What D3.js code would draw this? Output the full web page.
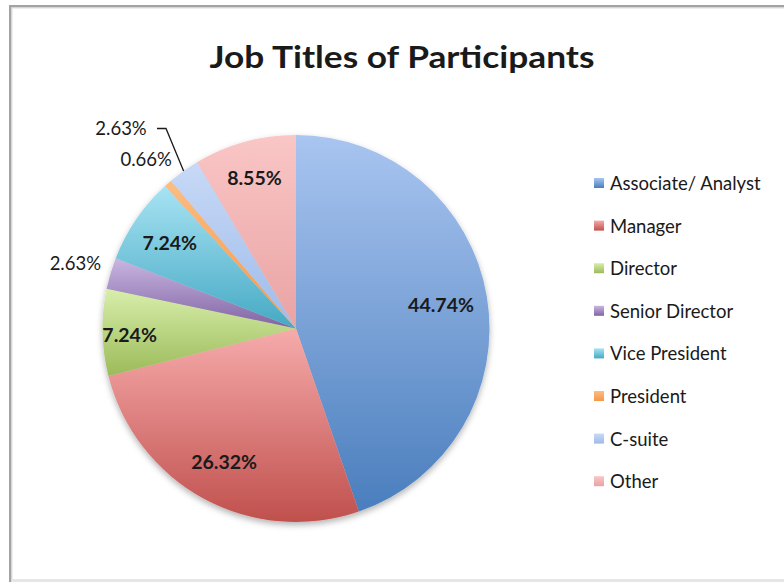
<!DOCTYPE html>
<html>
<head>
<meta charset="utf-8">
<script src="https://cdn.jsdelivr.net/npm/d3@7"></script>
<style>
  html, body { margin: 0; padding: 0; background: #ffffff; }
  svg { display: block; }
  text { font-family: Lato, "Open Sans", sans-serif; fill: #1a1a1a; }
</style>
</head>
<body>
<svg id="chart" width="784" height="582"></svg>
<script>
// Job titles and their share of participants (percent)
const categories = ["Associate/ Analyst", "Manager", "Director", "Senior Director",
                    "Vice President", "President", "C-suite", "Other"];
const shares = [44.74, 26.32, 7.24, 2.63, 7.24, 0.66, 2.63, 8.55];
const shareLabels = ["44.74%", "26.32%", "7.24%", "2.63%", "7.24%", "0.66%", "2.63%", "8.55%"];

// Gradient stops per slice: light at top, deeper at bottom
const topColors    = ["#a9c5f0", "#f6abab", "#d8eeab", "#c9b6e2", "#a8e3f3", "#fbbd85", "#c7d9f6", "#fac6c6"];
const bottomColors = ["#4a7ebd", "#c0504d", "#9bbb59", "#8064a2", "#45a9c4", "#f79646", "#9fbbea", "#e9a3a3"];

const W = 784, H = 582;
const cx = 296, cy = 328.5, R = 193.5;

const svg = d3.select("#chart");
const defs = svg.append("defs");

categories.forEach((c, i) => {
  const g = defs.append("linearGradient")
    .attr("id", "grad" + i)
    .attr("x1", 0).attr("y1", 0).attr("x2", 0).attr("y2", 1);
  g.append("stop").attr("offset", "0%").attr("stop-color", topColors[i]);
  g.append("stop").attr("offset", "100%").attr("stop-color", bottomColors[i]);
});

const shadow = defs.append("filter").attr("id", "pieShadow")
  .attr("x", "-10%").attr("y", "-10%").attr("width", "120%").attr("height", "125%");
shadow.append("feDropShadow")
  .attr("dx", 0).attr("dy", 3).attr("stdDeviation", 3)
  .attr("flood-color", "#000").attr("flood-opacity", 0.3);

// Chart frame
svg.append("rect").attr("x", 0).attr("y", 0).attr("width", W).attr("height", H).attr("fill", "#ffffff");
svg.append("rect").attr("x", 9).attr("y", 5).attr("width", W - 9).attr("height", 2.5).attr("fill", "#a3a3a3");
svg.append("rect").attr("x", 9).attr("y", 5).attr("width", 2.5).attr("height", H - 5).attr("fill", "#a3a3a3");
svg.append("rect").attr("x", 11.5).attr("y", 7.5).attr("width", W - 11.5).attr("height", 1).attr("fill", "#dedede");
svg.append("rect").attr("x", 11.5).attr("y", 7.5).attr("width", 1).attr("height", H - 7.5).attr("fill", "#dedede");
svg.append("rect").attr("x", 11.5).attr("y", 579).attr("width", W - 11.5).attr("height", 3).attr("fill", "#e6e6e6");

// Title
svg.append("text")
  .attr("x", 402).attr("y", 56)
  .attr("text-anchor", "middle").attr("dominant-baseline", "central")
  .attr("textLength", 385).attr("lengthAdjust", "spacingAndGlyphs")
  .style("font-size", "31px").style("font-weight", 700)
  .text("Job Titles of Participants");

// Pie
const data = categories.map((c, i) => ({ name: c, value: shares[i], label: shareLabels[i], i }));
const pie = d3.pie().value(d => d.value).sort(null);
const arcs = pie(data);
const arc = d3.arc().innerRadius(0).outerRadius(R);

const g = svg.append("g").attr("transform", `translate(${cx},${cy})`);
const slices = g.append("g").attr("filter", "url(#pieShadow)");
slices.selectAll("path")
  .data(arcs)
  .join("path")
  .attr("d", arc)
  .attr("fill", d => `url(#grad${d.data.i})`);

// Label placement: distance from center as a fraction of the radius
const labelRadius = [0.76, 0.78, 0.86, 1.19, 0.79, 1.17, 1.35, 0.81];
const insideLabel = [true, true, true, false, true, false, false, true];

function polar(angle, r) {
  return [Math.sin(angle) * r, -Math.cos(angle) * r];
}

arcs.forEach(a => {
  const i = a.data.i;
  const mid = (a.startAngle + a.endAngle) / 2;
  let [x, y] = polar(mid, labelRadius[i] * R);
  if (i === 2) y += 3;
  if (i === 6) {
    // C-suite label sits up-left with a leader line to the slice edge
    const [ex, ey] = polar(mid, R);
    x = -175; y = -200.5;
    g.append("path")
      .attr("d", `M${x + 36},${y + 0.5} L${x + 45},${y + 0.5} L${ex},${ey}`)
      .attr("fill", "none").attr("stroke", "#1a1a1a").attr("stroke-width", 1.3);
  }
  g.append("text")
    .attr("x", x).attr("y", y)
    .attr("text-anchor", "middle").attr("dominant-baseline", "central")
    .style("font-size", insideLabel[i] ? "19.5px" : "18.5px")
    .style("font-weight", insideLabel[i] ? 700 : 400)
    .text(a.data.label);
});

// Legend
const legend = svg.append("g").attr("transform", "translate(594,183)");
const rowStep = 42.6;
categories.forEach((c, i) => {
  const row = legend.append("g").attr("transform", `translate(0,${i * rowStep})`);
  row.append("rect")
    .attr("x", 0).attr("y", -5).attr("width", 10).attr("height", 10)
    .attr("fill", `url(#grad${i})`);
  row.append("text")
    .attr("x", 16).attr("y", 0)
    .attr("dominant-baseline", "central")
    .style("font-size", "18.5px")
    .text(c);
});
</script>
</body>
</html>
